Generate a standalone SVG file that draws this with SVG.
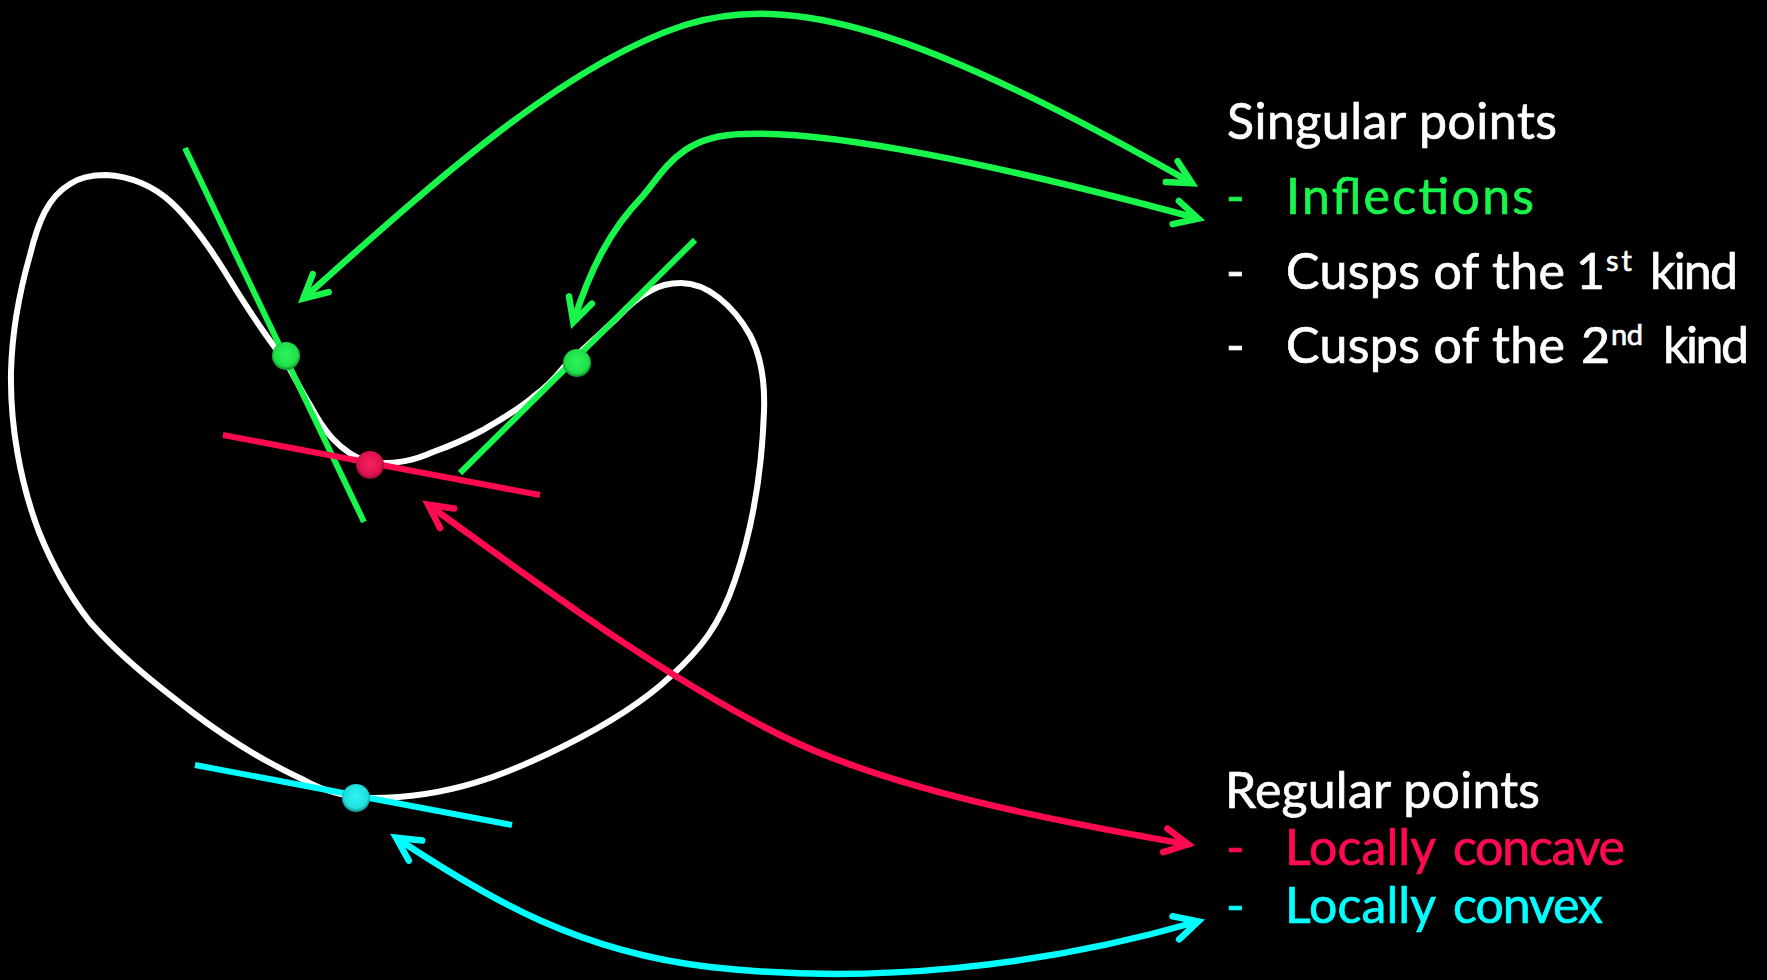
<svg xmlns="http://www.w3.org/2000/svg" width="1767" height="980" viewBox="0 0 1767 980">
<style>
text{font-family:"Lato","Open Sans","Liberation Sans",sans-serif;font-size:50px;fill:#fff;stroke:#fff;stroke-width:.7}
.g{fill:#19f64b;stroke:#19f64b}.r{fill:#ff0a50;stroke:#ff0a50}.c{fill:#00ffff;stroke:#00ffff}
.sup{font-size:29px}
.curve{fill:none;stroke:#fff;stroke-width:6}
.t{fill:none;stroke-width:6}
.a{fill:none;stroke-width:6.5}
.gs{stroke:#19f64b}.rs{stroke:#ff0a50}.cs{stroke:#00ffff}
.h{fill:none;stroke-width:6.5;stroke-linecap:round;stroke-linejoin:miter}
</style>
<defs>
<marker id="ag" markerUnits="userSpaceOnUse" markerWidth="70" markerHeight="70" refX="25" refY="35" orient="auto-start-reverse" overflow="visible"><path class="h gs" d="M4 23 L27.3 35 L4 47"/></marker>
<marker id="ar" markerUnits="userSpaceOnUse" markerWidth="70" markerHeight="70" refX="25" refY="35" orient="auto-start-reverse" overflow="visible"><path class="h rs" d="M4 23 L27.3 35 L4 47"/></marker>
<marker id="ac" markerUnits="userSpaceOnUse" markerWidth="70" markerHeight="70" refX="25" refY="35" orient="auto-start-reverse" overflow="visible"><path class="h cs" d="M4 23 L27.3 35 L4 47"/></marker>
<radialGradient id="sg" cx="0.5" cy="0.45" r="0.55"><stop offset="0" stop-color="#2bf55a"/><stop offset="0.75" stop-color="#1fe04a"/><stop offset="1" stop-color="#11852c"/></radialGradient>
<radialGradient id="sr" cx="0.5" cy="0.45" r="0.55"><stop offset="0" stop-color="#f5225f"/><stop offset="0.75" stop-color="#e01050"/><stop offset="1" stop-color="#851030"/></radialGradient>
<radialGradient id="sc" cx="0.5" cy="0.45" r="0.55"><stop offset="0" stop-color="#30f5f5"/><stop offset="0.75" stop-color="#20e0e0"/><stop offset="1" stop-color="#128a8a"/></radialGradient>
</defs>
<rect width="1767" height="980" fill="#000"/>
<g id="curve"><path class="curve" d="M681 283 C707 283 733 305 750 335 C762 358 765 385 764 411 C762 470 752 530 735 580 C720 625 700 650 671 676 C640 705 600 728 564 746 C510 773 450 798 372 798 C340 797 320 789 304 780 C265 762 225 737 192 712 C150 680 118 654 90 622 C68 594 52 564 39 532 C20 482 10 425 11 372 C12 330 20 290 30 255 C38 222 48 197 70 184 C80 177 92 175 106 175 C130 176 154 186 172 203 C190 220 210 248 225 272 C245 305 265 335 286 362 C295 378 302 392 310 405 C322 428 338 452 370 463 C400 464 415 460 433 452 C450 446 468 438 483 430 C500 420 518 410 533 397 C545 388 555 378 563 368 C580 352 598 336 617 318 C630 304 640 296 650 291 C660 285 670 283 681 283 Z"/></g>
<g id="tangents">
<line class="t gs" x1="185" y1="148" x2="364" y2="522"/>
<line class="t gs" x1="695" y1="240" x2="460" y2="473"/>
<line class="t rs" x1="223" y1="435" x2="540" y2="495"/>
<line class="t cs" x1="195" y1="765" x2="512" y2="825"/>
</g>
<g id="connectors">
<path class="a gs" marker-start="url(#ag)" marker-end="url(#ag)" d="M305 297 C420 195 560 65 685 25 C790 -8 920 28 1190 182"/>
<path class="a gs" marker-start="url(#ag)" marker-end="url(#ag)" d="M574 320 C590 270 610 230 642 197 C665 170 680 135 744 134 C830 130 1000 165 1196 218"/>
<path class="a rs" marker-start="url(#ar)" marker-end="url(#ar)" d="M430 506 C540 585 660 675 780 735 C890 790 1060 822 1186 844"/>
<path class="a cs" marker-start="url(#ac)" marker-end="url(#ac)" d="M398 839 C490 900 580 952 710 967 C870 985 1040 967 1196 922"/>
</g>
<g id="point-inflection-1"><circle cx="286" cy="356" r="14" fill="url(#sg)"/></g>
<g id="point-inflection-2"><circle cx="577" cy="363" r="14" fill="url(#sg)"/></g>
<g id="point-concave"><circle cx="370" cy="465" r="14" fill="url(#sr)"/></g>
<g id="point-convex"><circle cx="356" cy="798" r="14" fill="url(#sc)"/></g>
<g id="label-singular">
<text x="1227" y="139" textLength="330" lengthAdjust="spacing">Singular points</text>
<text class="g" x="1226" y="214">-</text><text class="g" x="1286" y="214" textLength="248" lengthAdjust="spacing">Inflections</text>
<text x="1226" y="289">-</text><text x="1286" y="289" textLength="279" lengthAdjust="spacing">Cusps of the</text><text x="1576" y="289">1</text><text class="sup" x="1606" y="271" textLength="26" lengthAdjust="spacing">st</text><text x="1650" y="289" textLength="88" lengthAdjust="spacing">kind</text>
<text x="1226" y="363">-</text><text x="1286" y="363" textLength="279" lengthAdjust="spacing">Cusps of the</text><text x="1581" y="363">2</text><text class="sup" x="1611" y="345" textLength="32" lengthAdjust="spacing">nd</text><text x="1663" y="363" textLength="86" lengthAdjust="spacing">kind</text>
</g>
<g id="label-regular">
<text x="1225" y="808" textLength="315" lengthAdjust="spacing">Regular points</text>
<text class="r" x="1226" y="865">-</text><text class="r" x="1285" y="865" textLength="151" lengthAdjust="spacing">Locally</text><text class="r" x="1453" y="865" textLength="172" lengthAdjust="spacing">concave</text>
<text class="c" x="1226" y="923">-</text><text class="c" x="1285" y="923" textLength="151" lengthAdjust="spacing">Locally</text><text class="c" x="1453" y="923" textLength="150" lengthAdjust="spacing">convex</text>
</g>
</svg>
